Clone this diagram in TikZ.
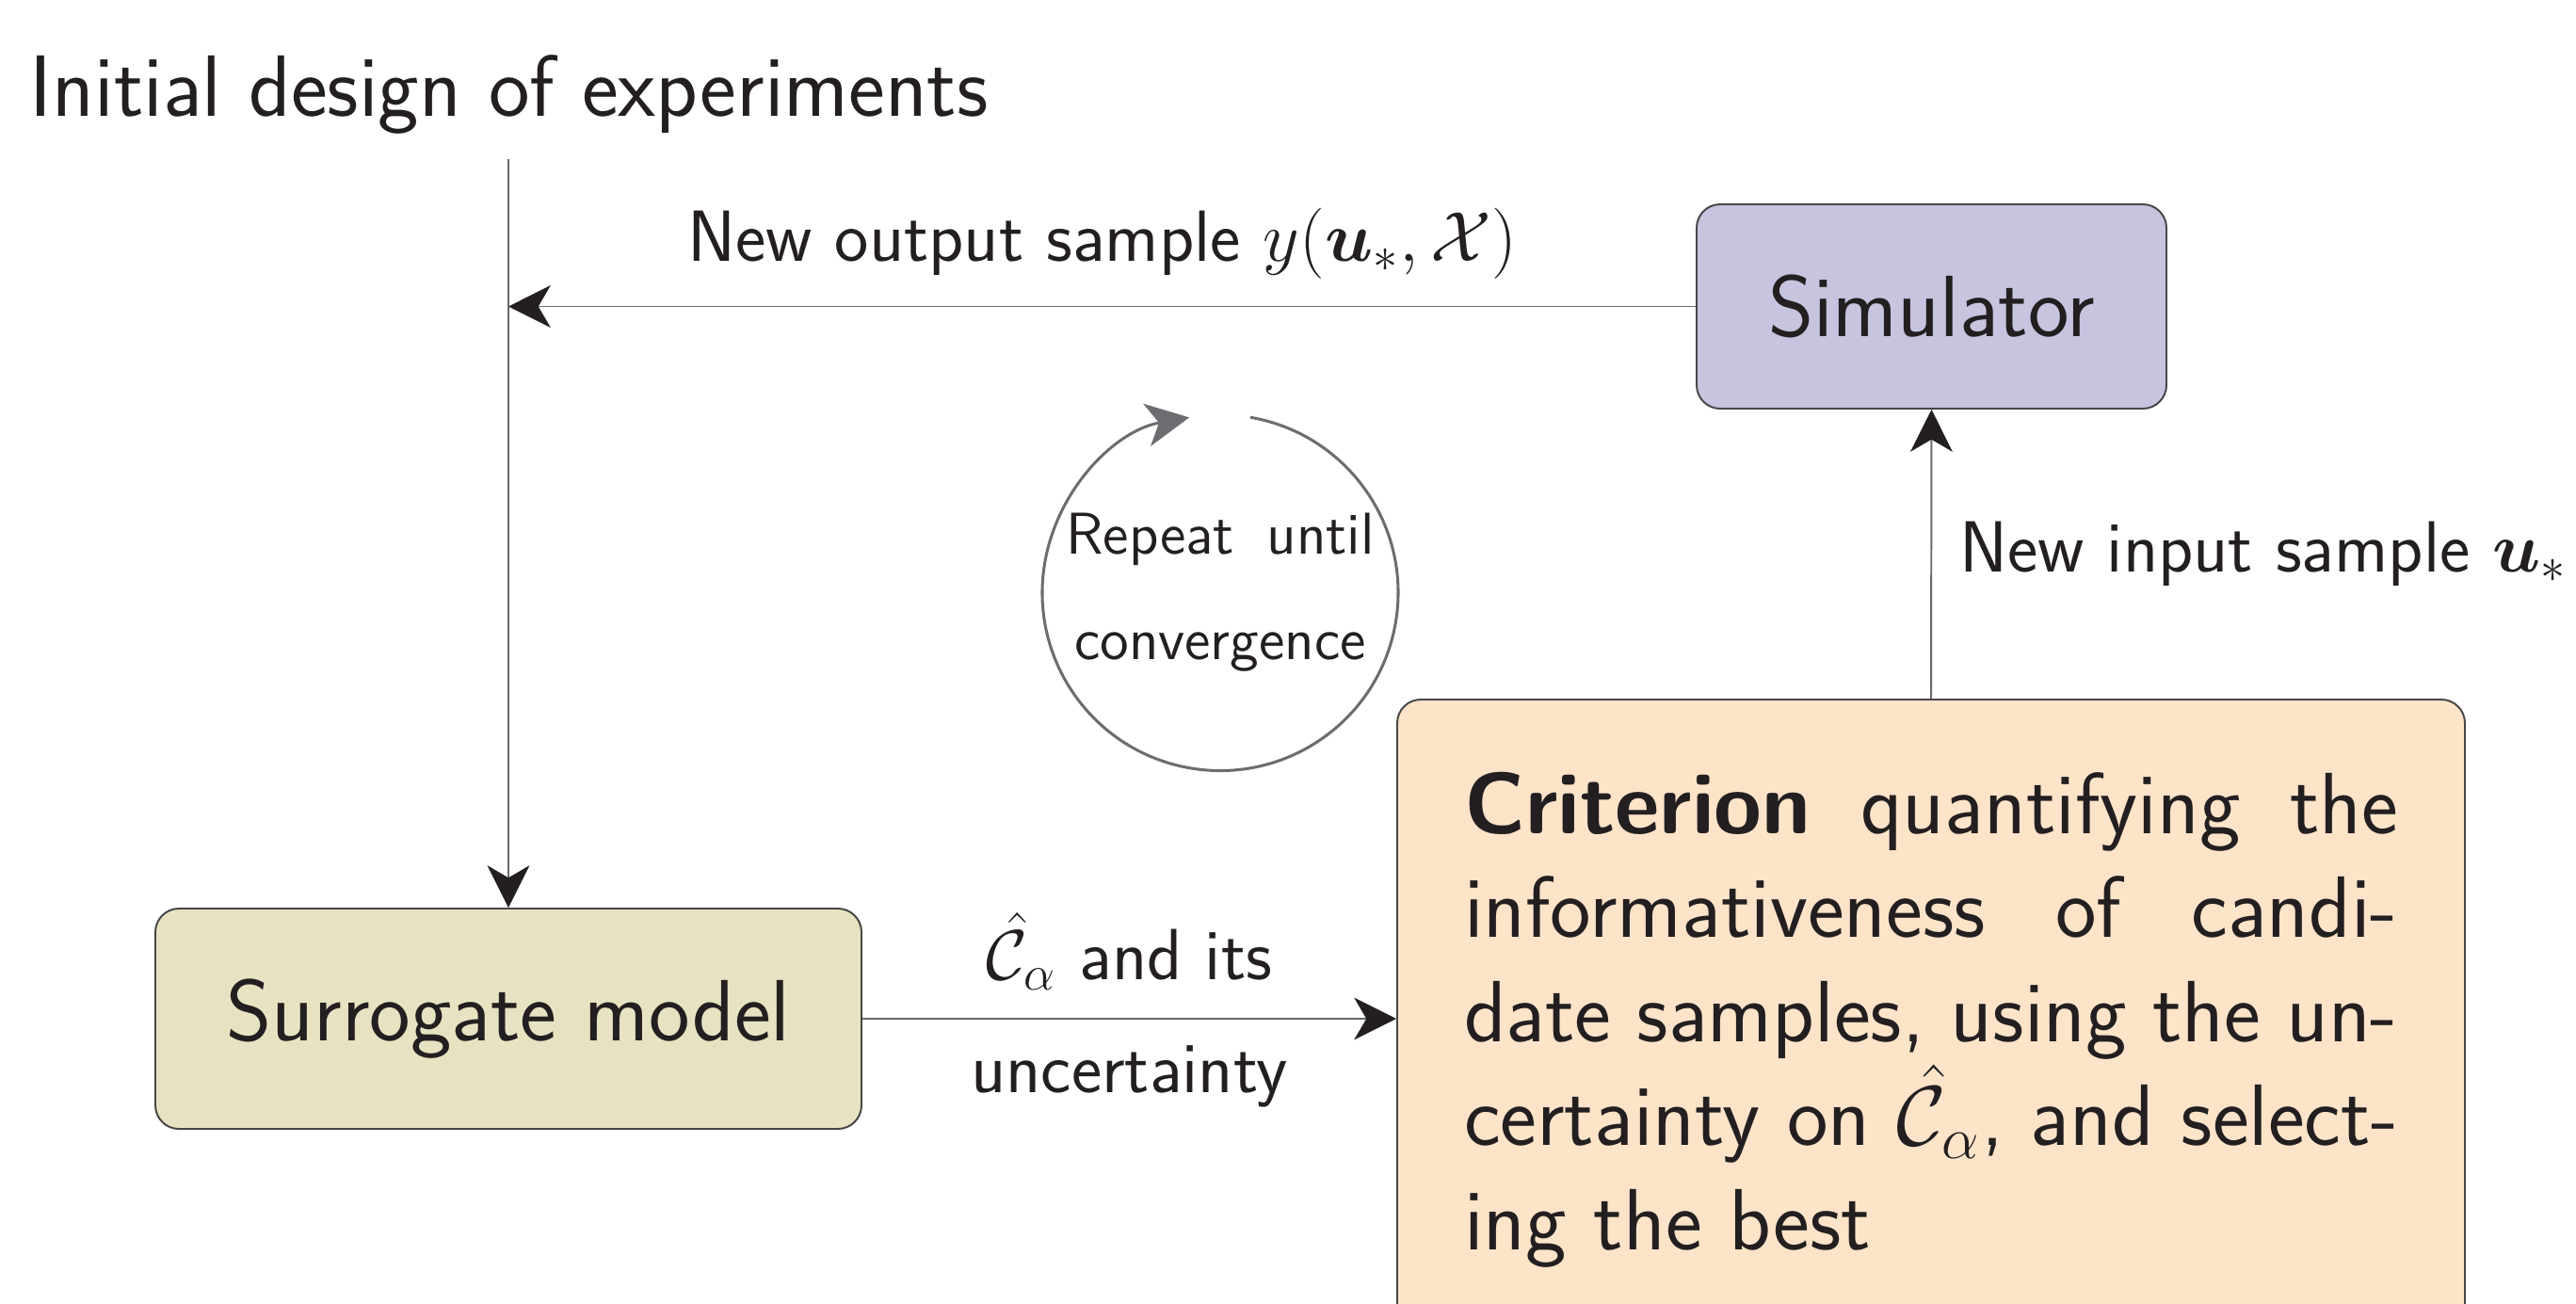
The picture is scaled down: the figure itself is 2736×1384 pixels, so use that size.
\documentclass[tikz,border=0pt]{standalone}
\usepackage{amsmath}
\usepackage{fontspec}
\renewcommand{\familydefault}{\sfdefault}
\usetikzlibrary{arrows.meta,calc}

\definecolor{surfill}{RGB}{231,227,194}
\definecolor{simfill}{RGB}{199,196,224}
\definecolor{critfill}{RGB}{253,228,201}
\definecolor{linegray}{RGB}{105,105,105}
\definecolor{loopgray}{RGB}{108,109,113}
\definecolor{framegray}{RGB}{70,70,70}
\definecolor{ink}{RGB}{35,31,32}

% one drawing unit
\def\pxu{0.22989pt}

\begin{document}
\begin{tikzpicture}[x=0.22989pt, y=-0.22989pt,
  every node/.style={text=ink},
  box/.style={draw=framegray, line width=0.45pt, rounded corners=5.75pt,
    inner sep=0pt, font=\fontsize{21.26}{25.4}\selectfont},
  conn/.style={draw=linegray, line width=0.45pt,
    -{Stealth[length=10.3pt,width=10.3pt,inset=3pt,color=ink]}},
  lab/.style={inner sep=0pt, font=\fontsize{17.7}{21}\selectfont},
  looplab/.style={inner sep=0pt, align=center, font=\fontsize{14.4}{25.7}\selectfont},
  loopline/.style={draw=loopgray, line width=0.7pt,
    -{Stealth[length=10.5pt,width=10.5pt,inset=3pt,color=loopgray]}}]

\useasboundingbox (0,0) rectangle (2736,1384);

% title
\node[inner sep=0pt, anchor=base west, font=\fontsize{21.26}{25}\selectfont]
  (init) at (31,123) {Initial design of experiments};
\coordinate (start) at (540,169);

% boxes
\node[box, fill=surfill, minimum width=750*\pxu, minimum height=234*\pxu]
  (sur) at (540,1082) {Surrogate model};
\node[box, fill=simfill, minimum width=499*\pxu, minimum height=217*\pxu]
  (sim) at (2051.5,325.5) {Simulator};
\node[box, fill=critfill, anchor=north, minimum width=1134*\pxu,
  text width=992*\pxu, align=justify, inner ysep=77*\pxu]
  (crit) at (2051,742)
  {\noindent\textbf{Criterion} quantifying the\linebreak
   informativeness of candi-\linebreak
   date samples, using the un-\linebreak
   certainty on $\hat{\mathcal{C}}_\alpha$, and select-\linebreak
   ing the best};

% connectors
\coordinate (join) at (sim.west -| start);
\draw[conn] (start) -- (sur.north);
\draw[conn] (sim.west) --
  node[lab, anchor=base, yshift=48*\pxu]
  {New output sample $y(\boldsymbol{u}_*, \mathcal{X})$} (join);
\draw[conn] (crit.north) --
  node[lab, anchor=west, xshift=29*\pxu]
  {New input sample $\boldsymbol{u}_*$} (sim.south);
\draw[conn] (sur.east) --
  node[lab, anchor=base, yshift=42*\pxu] {$\hat{\mathcal{C}}_\alpha$ and its}
  node[lab, anchor=base, yshift=-78*\pxu] {uncertainty}
  (sur.east -| crit.west);

% iteration loop
\coordinate (loop) at (1296,629.5);
\node[looplab] (rep) at (loop) {Repeat\hspace{0.55em}until\\convergence};
\draw[loopline] ([shift={(80.3:43.45pt)}]loop)
  arc[start angle=80.3, end angle=-260, radius=43.45pt];

\end{tikzpicture}
\end{document}
